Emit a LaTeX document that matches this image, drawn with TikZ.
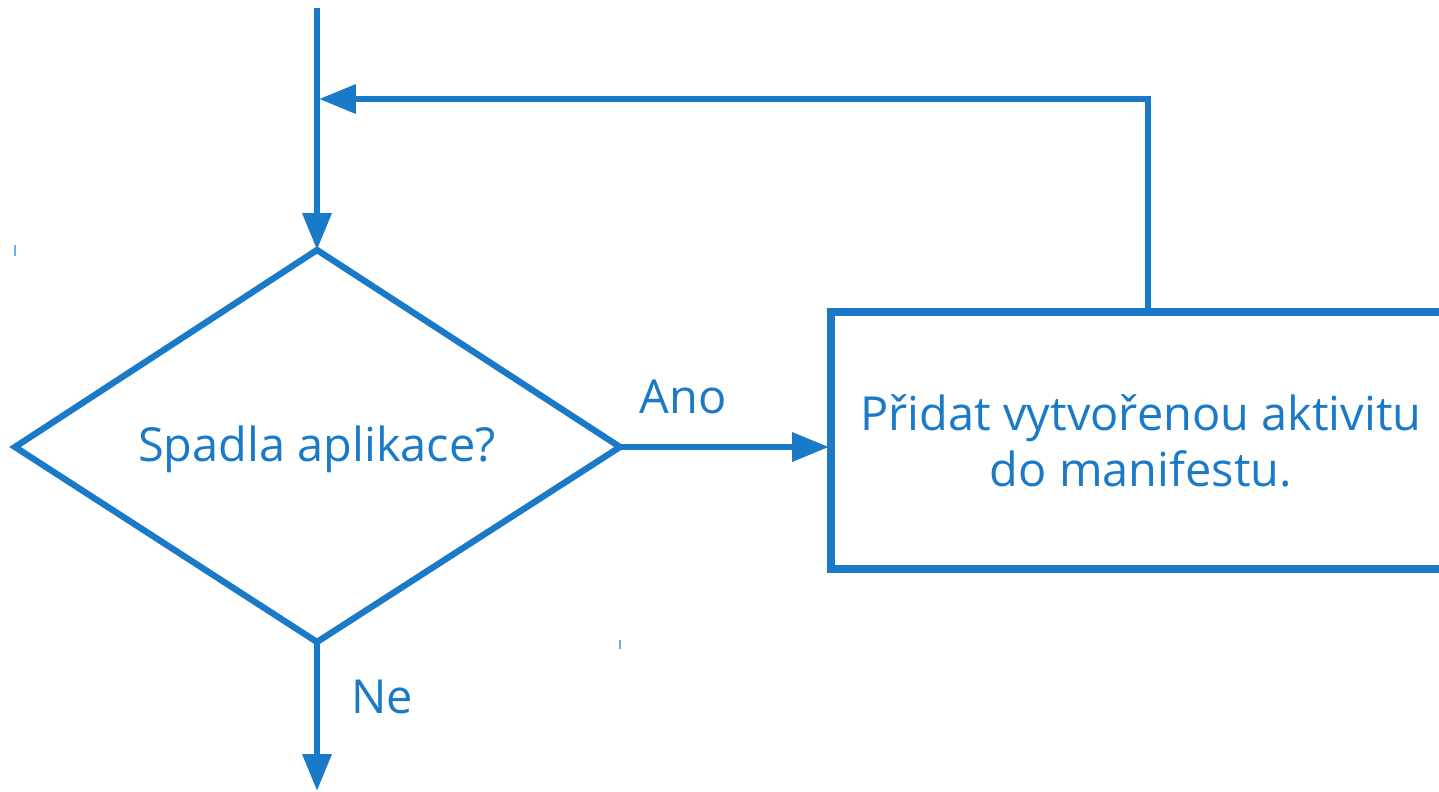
\documentclass[tikz,border=0pt]{standalone}
\usepackage{fontspec}
\setmainfont{Open Sans}
\usetikzlibrary{arrows.meta}
\definecolor{fc}{RGB}{26,122,200}
\begin{document}
\begin{tikzpicture}[x=0.02cm,y=-0.02cm,
  conn/.style={draw=fc,line width=3.5pt,-{Triangle[length=21pt,width=16pt]}},
  plain/.style={draw=fc,line width=3.6pt},
  lbl/.style={text=fc,font=\fontsize{26.7}{32}\selectfont,inner sep=0pt},
  tick/.style={draw=fc!60,line width=0.8pt}]
\useasboundingbox (0,0) rectangle (1439,791);
% diamond
\coordinate (dt) at (317,250);
\coordinate (dl) at (15,447);
\coordinate (dr) at (620,447);
\coordinate (db) at (317,642);
\draw[plain,line join=miter] (dt) -- (dr) -- (db) -- (dl) -- cycle;
\node[lbl] (q) at (317,449) {Spadla aplikace?};
% box
\coordinate (bl) at (831,312);
\coordinate (br) at (1451,569);
\draw[draw=fc,line width=4pt] (bl) rectangle (br);
\node[lbl,align=center] (act) at (1141,441) {Přidat vytvořenou aktivitu\\do manifestu.};
% connectors
\coordinate (start) at (317,8);
\draw[conn] (start) -- (dt);
\coordinate (btop) at (1148,310);
\coordinate (corner) at (1148,99);
\coordinate (ret) at (319,99);
\draw[conn] (btop) -- (corner) -- (ret);
\draw[conn] (dr) -- (829,447);
\coordinate (endn) at (317,791);
\draw[conn] (db) -- (endn);
\node[lbl] (ano) at (683,397) {Ano};
\node[lbl] (ne) at (382,697) {Ne};
% small ticks
\draw[tick] (15,245) -- (15,256);
\draw[tick] (620,640) -- (620,649);
\end{tikzpicture}
\end{document}
